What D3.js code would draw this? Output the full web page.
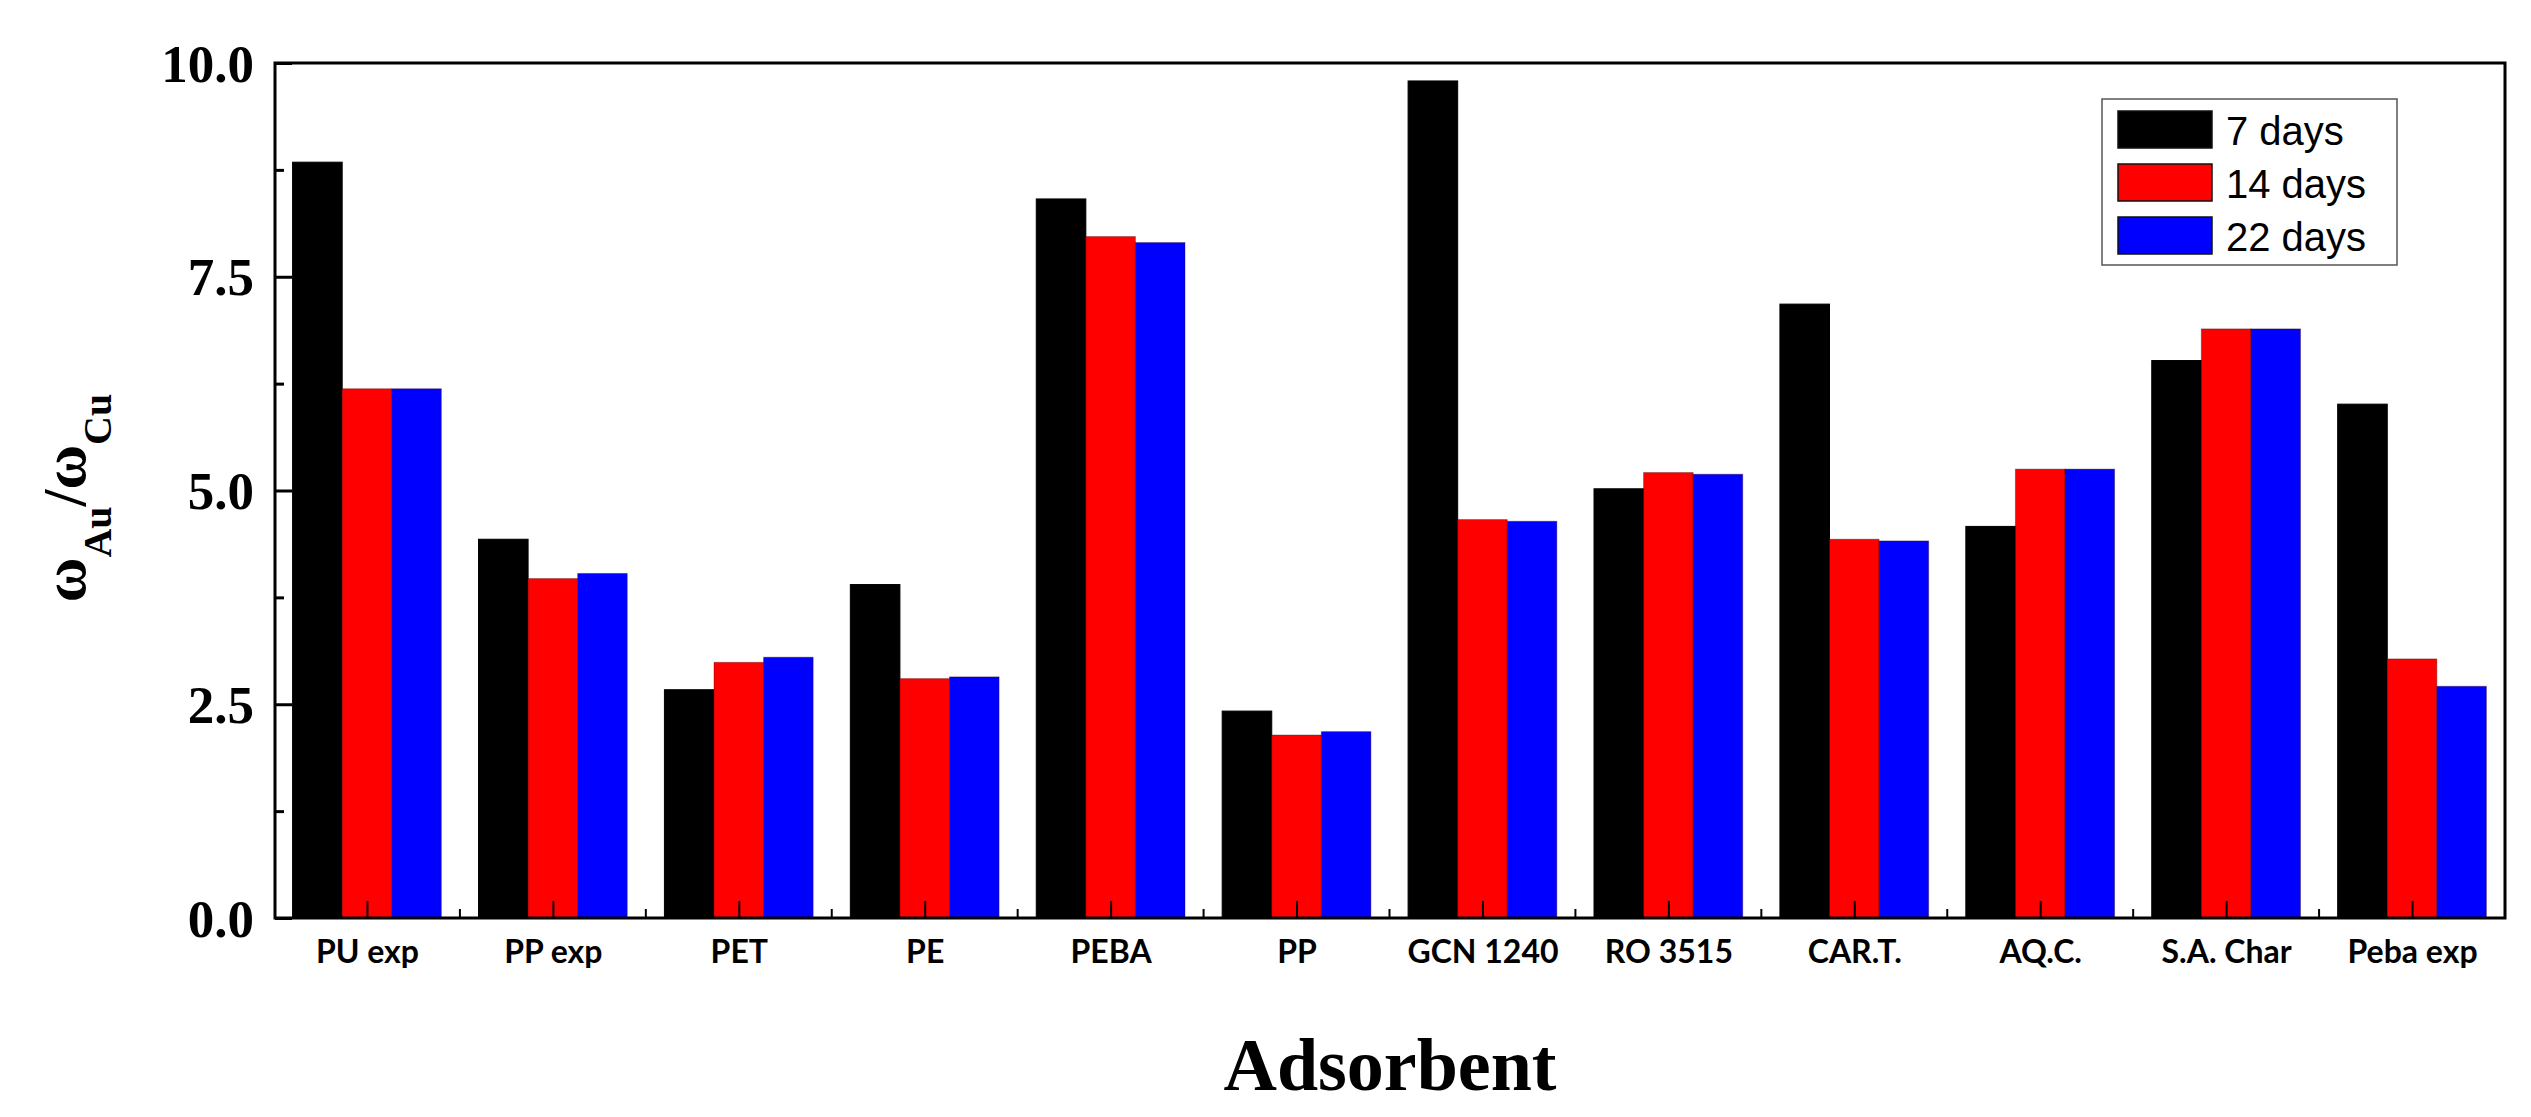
<!DOCTYPE html>
<html>
<head>
<meta charset="utf-8">
<script src="https://cdn.jsdelivr.net/npm/d3@7"></script>
<style>
  html, body { margin: 0; padding: 0; background: #fff; }
  svg { display: block; }
</style>
</head>
<body>
<script>
const categories = ["PU exp", "PP exp", "PET", "PE", "PEBA", "PP", "GCN 1240", "RO 3515", "CAR.T.", "AQ.C.", "S.A. Char", "Peba exp"];
const seriesNames = ["7 days", "14 days", "22 days"];
const seriesColors = ["#000000", "#ff0000", "#0000ff"];
const days7  = [8.84, 4.43, 2.67, 3.90, 8.41, 2.42, 9.79, 5.02, 7.18, 4.58, 6.52, 6.01];
const days14 = [6.19, 3.97, 2.99, 2.80, 7.97, 2.14, 4.66, 5.21, 4.43, 5.25, 6.89, 3.03];
const days22 = [6.19, 4.03, 3.05, 2.82, 7.90, 2.18, 4.64, 5.19, 4.41, 5.25, 6.89, 2.71];
const yTicks = [0, 2.5, 5, 7.5, 10];
const yMinorTicks = [1.25, 3.75, 6.25, 8.75];
const yLabelParts = [["ω", 0], ["Au", 1], ["/ω", 0], ["Cu", 1]];
const xTitle = "Adsorbent";

(function () {
const W = 2531, H = 1117;
const pL = 275, pR = 2505, pT = 63, pB = 918;
const seriesValues = [days7, days14, days22];

const svg = d3.select("body").append("svg").attr("width", W).attr("height", H);

const x0 = d3.scaleBand().domain(categories).range([pL - 1, pR]).paddingInner(0.2).paddingOuter(0.1);
const x1 = d3.scaleBand().domain(seriesNames).range([0, x0.bandwidth()]).padding(0);
const y = d3.scaleLinear().domain([0, 10]).range([pB, pT]);

// bars
const groups = svg.append("g").selectAll("g").data(categories).join("g")
  .attr("transform", d => `translate(${x0(d)},0)`);
groups.selectAll("rect")
  .data((c, i) => seriesNames.map((s, k) => ({ s, k, v: seriesValues[k][i] })))
  .join("rect")
  .attr("x", d => x1(d.s))
  .attr("y", d => y(d.v))
  .attr("width", x1.bandwidth())
  .attr("height", d => y(0) - y(d.v))
  .attr("fill", d => seriesColors[d.k])
  .attr("stroke", d => d.k === 0 ? "#000" : "#300")
  .attr("stroke-opacity", d => d.k === 0 ? 1 : 0.35)
  .attr("stroke-width", 1);

// y axis
const yAxis = d3.axisLeft(y).tickValues(yTicks).tickFormat(d3.format(".1f")).tickSize(-17).tickPadding(21);
const gy = svg.append("g").attr("transform", `translate(${pL},0)`).call(yAxis);
gy.select(".domain").remove();
gy.selectAll(".tick line").attr("stroke", "#000").attr("stroke-width", 3);
gy.selectAll(".tick text")
  .attr("font-family", "'Liberation Serif', 'Times New Roman', serif")
  .attr("font-weight", "bold").attr("font-size", 53).attr("fill", "#000").attr("dy", "0.34em");
const gyMinor = svg.append("g").attr("transform", `translate(${pL},0)`)
  .call(d3.axisLeft(y).tickValues(yMinorTicks).tickSize(-9).tickFormat(""));
gyMinor.select(".domain").remove();
gyMinor.selectAll(".tick line").attr("stroke", "#000").attr("stroke-width", 3);

// x axis: major ticks at category centers, minor ticks at boundaries
const xCenter = d3.scalePoint().domain(categories).range([x0(categories[0]) + x0.bandwidth() / 2, x0(categories[categories.length - 1]) + x0.bandwidth() / 2]);
const gx = svg.append("g").attr("transform", `translate(0,${pB})`)
  .call(d3.axisBottom(xCenter).tickSize(-17).tickPadding(22));
gx.select(".domain").remove();
gx.selectAll(".tick line").attr("stroke", "#000").attr("stroke-width", 2);
gx.selectAll(".tick text")
  .attr("font-family", "Lato, 'Open Sans', sans-serif")
  .attr("font-weight", "bold").attr("font-size", 32).attr("fill", "#000");
const step = x0.step();
const boundaries = categories.slice(0, -1).map(c => x0(c) + x0.bandwidth() / 2 + step / 2);
svg.append("g").selectAll("line").data(boundaries).join("line")
  .attr("x1", d => d).attr("x2", d => d)
  .attr("y1", pB).attr("y2", pB - 9)
  .attr("stroke", "#000").attr("stroke-width", 2);

// frame
svg.append("rect").attr("x", pL).attr("y", pT).attr("width", pR - pL).attr("height", pB - pT)
  .attr("fill", "none").attr("stroke", "#000").attr("stroke-width", 3);

// y label
const yl = svg.append("text")
  .attr("transform", `translate(85,498) rotate(-90)`)
  .attr("text-anchor", "middle")
  .attr("font-family", "'Liberation Serif', 'Times New Roman', serif")
  .attr("font-weight", "bold").attr("font-size", 61).attr("fill", "#000");
let prevSub = 0;
yLabelParts.forEach(([t, sub]) => {
  const ts = yl.append("tspan").text(t);
  if (sub) { ts.attr("font-size", 40).attr("dy", prevSub ? 0 : 26); }
  else { ts.attr("dy", prevSub ? -26 : 0); }
  prevSub = sub;
});

// x title
svg.append("text").attr("x", (pL + pR) / 2).attr("y", 1090)
  .attr("text-anchor", "middle")
  .attr("font-family", "'Liberation Serif', 'Times New Roman', serif")
  .attr("font-weight", "bold").attr("font-size", 74).attr("fill", "#000")
  .text(xTitle);

// legend
const lg = svg.append("g");
lg.append("rect").attr("x", 2102).attr("y", 99).attr("width", 295).attr("height", 166)
  .attr("fill", "#fff").attr("stroke", "#555").attr("stroke-width", 1.5);
const items = lg.selectAll("g.item").data(seriesNames).join("g").attr("class", "item")
  .attr("transform", (d, i) => `translate(2118,${111 + i * 53})`);
items.append("rect").attr("width", 94).attr("height", 37)
  .attr("fill", (d, i) => seriesColors[i]).attr("stroke", "#111").attr("stroke-width", 1.5);
items.append("text").attr("x", 108).attr("y", 34)
  .attr("font-family", "'Liberation Sans', Arial, sans-serif")
  .attr("font-size", 40).attr("fill", "#000").text(d => d);
})();
</script>
</body>
</html>
